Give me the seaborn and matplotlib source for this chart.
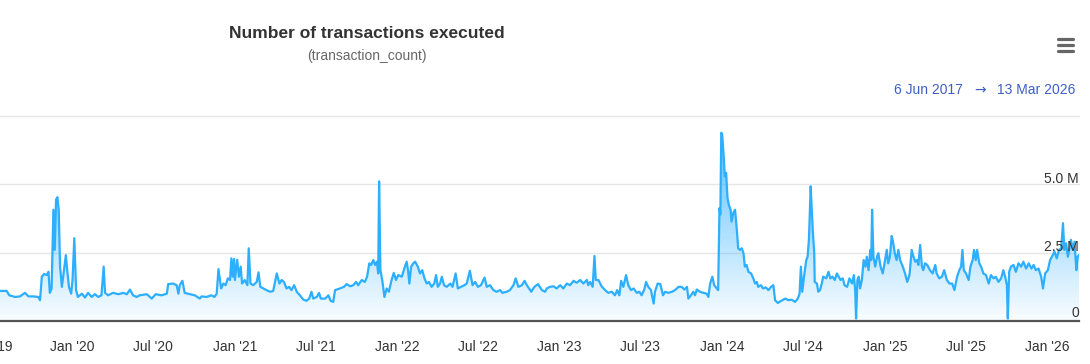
import numpy as np
import pandas as pd
import matplotlib
matplotlib.use("Agg")
import matplotlib.pyplot as plt
import matplotlib.dates as mdates
from matplotlib.lines import Line2D
import seaborn as sns

# Daily transaction count (millions)
dates = [
    "2019-07-23", "2019-08-07", "2019-08-13", "2019-08-26", "2019-09-06", "2019-09-17", "2019-09-25", "2019-10-06",
    "2019-10-17", "2019-10-21", "2019-10-25", "2019-10-30", "2019-11-05", "2019-11-09", "2019-11-12", "2019-11-16",
    "2019-11-20", "2019-11-23", "2019-11-26", "2019-11-29", "2019-12-02", "2019-12-05", "2019-12-09", "2019-12-12",
    "2019-12-18", "2019-12-21", "2019-12-25", "2019-12-30", "2020-01-02", "2020-01-06", "2020-01-10", "2020-01-14",
    "2020-01-23", "2020-01-30", "2020-02-06", "2020-02-14", "2020-02-21", "2020-02-29", "2020-03-07", "2020-03-12",
    "2020-03-15", "2020-03-22", "2020-04-02", "2020-04-14", "2020-04-25", "2020-05-03", "2020-05-10", "2020-05-17",
    "2020-05-25", "2020-06-01", "2020-06-17", "2020-06-28", "2020-07-07", "2020-07-20", "2020-08-01", "2020-08-04",
    "2020-08-15", "2020-08-23", "2020-08-27", "2020-08-30", "2020-09-05", "2020-09-10", "2020-09-22", "2020-10-03",
    "2020-10-14", "2020-10-18", "2020-10-29", "2020-11-09", "2020-11-16", "2020-11-21", "2020-11-25", "2020-12-01",
    "2020-12-06", "2020-12-11", "2020-12-16", "2020-12-21", "2020-12-24", "2020-12-27", "2020-12-30", "2021-01-01",
    "2021-01-06", "2021-01-10", "2021-01-14", "2021-01-17", "2021-01-23", "2021-01-29", "2021-02-01", "2021-02-05",
    "2021-02-11", "2021-02-19", "2021-02-23", "2021-02-27", "2021-03-06", "2021-03-13", "2021-03-21", "2021-03-28",
    "2021-04-05", "2021-04-11", "2021-04-16", "2021-04-21", "2021-04-27", "2021-05-03", "2021-05-08", "2021-05-14",
    "2021-05-20", "2021-05-27", "2021-06-04", "2021-06-11", "2021-06-17", "2021-06-22", "2021-06-26", "2021-07-04",
    "2021-07-09", "2021-07-13", "2021-07-23", "2021-07-30", "2021-08-04", "2021-08-10", "2021-08-14", "2021-08-25",
    "2021-09-03", "2021-09-09", "2021-09-17", "2021-09-24", "2021-09-30", "2021-10-05", "2021-10-13", "2021-10-20",
    "2021-10-25", "2021-10-30", "2021-11-03", "2021-11-08", "2021-11-12", "2021-11-16", "2021-11-19", "2021-11-21",
    "2021-11-24", "2021-11-28", "2021-12-03", "2021-12-08", "2021-12-13", "2021-12-19", "2021-12-24", "2021-12-29",
    "2022-01-03", "2022-01-11", "2022-01-18", "2022-01-22", "2022-01-25", "2022-01-28", "2022-02-01", "2022-02-06",
    "2022-02-10", "2022-02-16", "2022-02-21", "2022-02-26", "2022-03-03", "2022-03-08", "2022-03-13", "2022-03-19",
    "2022-03-25", "2022-03-29", "2022-04-02", "2022-04-07", "2022-04-11", "2022-04-16", "2022-04-22", "2022-04-30",
    "2022-05-05", "2022-05-12", "2022-05-17", "2022-05-24", "2022-06-01", "2022-06-06", "2022-06-13", "2022-06-19",
    "2022-06-25", "2022-07-01", "2022-07-08", "2022-07-16", "2022-07-21", "2022-07-28", "2022-08-05", "2022-08-12",
    "2022-08-20", "2022-08-25", "2022-09-04", "2022-09-11", "2022-09-19", "2022-09-24", "2022-09-30", "2022-10-08",
    "2022-10-14", "2022-10-19", "2022-10-29", "2022-11-05", "2022-11-13", "2022-11-22", "2022-11-29", "2022-12-03",
    "2022-12-10", "2022-12-18", "2022-12-25", "2023-01-02", "2023-01-09", "2023-01-17", "2023-01-24", "2023-02-01",
    "2023-02-08", "2023-02-16", "2023-02-23", "2023-03-03", "2023-03-06", "2023-03-10", "2023-03-16", "2023-03-20",
    "2023-03-23", "2023-03-29", "2023-04-05", "2023-04-13", "2023-04-20", "2023-04-28", "2023-05-05", "2023-05-10",
    "2023-05-15", "2023-05-19", "2023-05-24", "2023-05-30", "2023-06-04", "2023-06-10", "2023-06-16", "2023-06-23",
    "2023-06-29", "2023-07-04", "2023-07-10", "2023-07-14", "2023-07-19", "2023-07-25", "2023-07-31", "2023-08-03",
    "2023-08-09", "2023-08-15", "2023-08-21", "2023-08-26", "2023-09-02", "2023-09-10", "2023-09-17", "2023-09-25",
    "2023-10-02", "2023-10-08", "2023-10-14", "2023-10-17", "2023-10-23", "2023-10-28", "2023-11-01", "2023-11-05",
    "2023-11-12", "2023-11-20", "2023-11-27", "2023-12-01", "2023-12-05", "2023-12-10", "2023-12-14", "2023-12-20",
    "2023-12-23", "2023-12-26", "2023-12-28", "2023-12-30", "2024-01-01", "2024-01-05", "2024-01-07", "2024-01-10",
    "2024-01-13", "2024-01-16", "2024-01-20", "2024-01-22", "2024-01-26", "2024-01-30", "2024-02-03", "2024-02-06",
    "2024-02-10", "2024-02-14", "2024-02-18", "2024-02-21", "2024-02-25", "2024-02-29", "2024-03-06", "2024-03-11",
    "2024-03-15", "2024-03-19", "2024-03-22", "2024-03-28", "2024-04-02", "2024-04-08", "2024-04-14", "2024-04-20",
    "2024-04-25", "2024-04-29", "2024-05-05", "2024-05-13", "2024-05-22", "2024-05-29", "2024-06-05", "2024-06-13",
    "2024-06-19", "2024-06-23", "2024-06-26", "2024-06-29", "2024-07-03", "2024-07-08", "2024-07-11", "2024-07-14",
    "2024-07-18", "2024-07-20", "2024-07-23", "2024-07-26", "2024-07-27", "2024-08-01", "2024-08-04", "2024-08-08",
    "2024-08-12", "2024-08-15", "2024-08-22", "2024-08-27", "2024-08-31", "2024-09-05", "2024-09-10", "2024-09-15",
    "2024-09-23", "2024-09-28", "2024-10-02", "2024-10-08", "2024-10-13", "2024-10-19", "2024-10-23", "2024-10-26",
    "2024-10-28", "2024-10-31", "2024-11-03", "2024-11-06", "2024-11-10", "2024-11-14", "2024-11-18", "2024-11-21",
    "2024-11-25", "2024-11-29", "2024-12-01", "2024-12-03", "2024-12-06", "2024-12-10", "2024-12-14", "2024-12-17",
    "2024-12-22", "2024-12-27", "2025-01-01", "2025-01-05", "2025-01-08", "2025-01-12", "2025-01-16", "2025-01-19",
    "2025-01-23", "2025-01-27", "2025-01-31", "2025-02-04", "2025-02-10", "2025-02-15", "2025-02-20", "2025-02-25",
    "2025-03-02", "2025-03-06", "2025-03-10", "2025-03-14", "2025-03-17", "2025-03-21", "2025-03-25", "2025-03-28",
    "2025-04-01", "2025-04-06", "2025-04-12", "2025-04-18", "2025-04-24", "2025-04-27", "2025-05-03", "2025-05-09",
    "2025-05-14", "2025-05-20", "2025-05-26", "2025-06-01", "2025-06-06", "2025-06-12", "2025-06-17", "2025-06-21",
    "2025-06-24", "2025-06-27", "2025-07-02", "2025-07-08", "2025-07-12", "2025-07-17", "2025-07-20", "2025-07-24",
    "2025-07-27", "2025-08-01", "2025-08-05", "2025-08-10", "2025-08-16", "2025-08-22", "2025-08-27", "2025-09-02",
    "2025-09-07", "2025-09-13", "2025-09-19", "2025-09-24", "2025-09-28", "2025-10-02", "2025-10-04", "2025-10-07",
    "2025-10-11", "2025-10-17", "2025-10-22", "2025-10-28", "2025-11-03", "2025-11-08", "2025-11-14", "2025-11-20",
    "2025-11-26", "2025-12-01", "2025-12-06", "2025-12-12", "2025-12-18", "2025-12-22", "2025-12-27", "2026-01-02",
    "2026-01-07", "2026-01-11", "2026-01-17", "2026-01-22", "2026-01-27", "2026-02-01", "2026-02-05", "2026-02-08",
    "2026-02-12", "2026-02-16", "2026-02-19", "2026-02-23", "2026-02-27", "2026-03-03", "2026-03-07", "2026-03-10",
    "2026-03-13",
]
tx_millions = [
    1.10, 1.10, 0.94, 0.88, 0.90, 1.03, 0.90, 0.90,
    0.88, 0.76, 1.62, 1.72, 1.68, 1.80, 1.03, 1.19,
    4.07, 2.60, 4.44, 4.53, 4.07, 1.99, 1.25, 1.62,
    2.41, 1.86, 1.25, 1.00, 1.50, 3.03, 1.13, 0.88,
    1.00, 0.86, 1.03, 0.88, 0.98, 0.88, 0.94, 1.99,
    1.03, 0.94, 1.03, 0.98, 1.03, 0.98, 1.15, 0.94,
    0.88, 0.94, 0.98, 0.82, 0.98, 0.94, 1.00, 1.35,
    1.37, 1.31, 1.00, 1.31, 1.47, 1.03, 0.98, 0.94,
    0.82, 0.90, 0.88, 0.94, 0.88, 1.00, 1.90, 1.19,
    1.37, 1.31, 1.56, 1.50, 2.29, 1.62, 2.27, 1.50,
    2.24, 1.62, 1.99, 1.37, 1.50, 1.31, 2.66, 1.37,
    1.31, 1.43, 1.78, 1.25, 1.19, 1.13, 1.07, 1.10,
    1.74, 1.37, 1.50, 1.43, 1.19, 1.25, 1.13, 1.31,
    1.07, 0.94, 0.78, 0.74, 0.82, 1.07, 0.82, 0.88,
    1.03, 0.82, 0.82, 0.94, 0.74, 0.70, 1.13, 1.19,
    1.25, 1.35, 1.27, 1.31, 1.43, 1.31, 1.50, 1.43,
    1.62, 2.11, 2.05, 2.23, 2.05, 2.17, 1.74, 5.11,
    1.86, 1.50, 0.88, 1.19, 1.07, 1.50, 1.76, 1.50,
    1.68, 1.62, 1.99, 2.17, 1.86, 1.37, 1.99, 2.11,
    2.17, 1.99, 1.74, 1.86, 1.56, 1.37, 1.43, 1.25,
    1.37, 1.68, 1.25, 1.37, 1.62, 1.31, 1.25, 1.37,
    1.25, 1.74, 1.19, 1.25, 1.31, 1.37, 1.84, 1.31,
    1.43, 1.25, 1.31, 1.59, 1.25, 1.31, 1.13, 1.07,
    1.13, 1.03, 1.07, 1.13, 1.31, 1.56, 1.25, 1.31,
    1.47, 1.31, 1.07, 1.25, 1.35, 1.13, 1.07, 1.19,
    1.25, 1.27, 1.19, 1.31, 1.19, 1.37, 1.31, 1.47,
    1.40, 1.50, 1.37, 1.50, 1.31, 1.43, 1.25, 2.38,
    1.50, 1.50, 1.27, 1.13, 1.03, 1.07, 0.94, 1.13,
    0.94, 1.47, 1.25, 1.68, 1.31, 1.13, 1.19, 1.03,
    1.07, 0.94, 1.15, 1.43, 1.25, 1.13, 0.64, 1.07,
    1.37, 1.35, 0.94, 1.07, 1.03, 1.07, 1.13, 1.25,
    1.25, 1.15, 1.25, 0.82, 0.94, 1.07, 0.94, 1.15,
    1.07, 1.03, 1.00, 0.88, 1.37, 1.62, 1.31, 1.19,
    1.13, 4.13, 3.90, 6.89, 6.83, 5.90, 5.29, 5.42,
    4.50, 4.25, 4.07, 3.64, 3.95, 4.07, 3.33, 2.66,
    2.60, 2.66, 2.48, 1.99, 2.05, 1.80, 1.74, 1.56,
    1.37, 1.43, 1.25, 1.31, 1.19, 1.23, 1.13, 1.25,
    1.31, 0.76, 0.66, 0.74, 0.82, 0.76, 0.78, 0.70,
    0.82, 1.00, 1.99, 1.07, 1.62, 2.23, 2.35, 2.97,
    4.93, 4.20, 3.21, 2.48, 1.43, 1.37, 1.07, 1.13,
    1.37, 1.62, 1.56, 1.80, 1.56, 1.62, 1.50, 1.74,
    1.50, 1.56, 1.31, 1.25, 1.56, 1.37, 1.68, 1.13,
    0.09, 1.50, 1.62, 1.19, 1.50, 2.23, 1.99, 2.35,
    1.86, 2.60, 2.23, 4.07, 2.35, 1.99, 2.35, 2.48,
    1.99, 1.74, 2.23, 2.60, 2.11, 2.35, 3.11, 2.90,
    2.48, 2.23, 2.60, 2.23, 1.99, 1.74, 1.43, 1.68,
    2.60, 2.35, 2.17, 2.23, 2.05, 2.78, 1.99, 1.86,
    2.11, 2.05, 1.86, 1.74, 2.05, 1.74, 1.56, 1.62,
    1.86, 1.50, 1.37, 1.37, 1.13, 1.62, 1.86, 1.99,
    2.60, 1.86, 1.74, 1.50, 1.99, 2.23, 2.60, 2.23,
    2.60, 2.11, 1.99, 1.74, 1.68, 1.37, 1.68, 1.56,
    1.62, 1.43, 1.56, 1.86, 1.62, 1.31, 0.09, 1.80,
    1.99, 2.05, 1.80, 2.11, 1.99, 2.17, 1.92, 2.11,
    1.92, 2.05, 1.86, 1.92, 1.62, 1.19, 1.74, 1.86,
    2.23, 2.35, 2.54, 2.29, 2.60, 2.66, 3.58, 2.60,
    2.84, 2.35, 2.60, 2.97, 2.60, 2.90, 1.86, 2.35,
    2.41,
]

grid_values = [2.5, 5.0, 7.5]
y_label_values = [0, 2.5, 5.0]
y_labels = ["0", "2.5 M", "5.0 M"]
view_start, view_end = "2019-07-23", "2026-03-13"
title = "Number of transactions executed"
subtitle = "(transaction_count)"
range_from, range_to = "6 Jun 2017", "13 Mar 2026"

sns.set_style("white")
plt.rcParams["font.family"] = ["Liberation Sans", "DejaVu Sans"]

df = pd.DataFrame({"date": pd.to_datetime(dates), "tx": tx_millions})

W, H = 1090, 364
fig = plt.figure(figsize=(W / 100, H / 100), dpi=100)
ax = fig.add_axes([0, 43 / H, 1079 / W, 205 / H])

line_color = "#2caffe"

# gradient area under the line
fill = ax.fill_between(df["date"], 0, df["tx"], facecolor="none", edgecolor="none")
x0 = mdates.date2num(pd.Timestamp(view_start))
x1 = mdates.date2num(pd.Timestamp(view_end))
grad = np.zeros((256, 1, 4))
grad[..., 0] = 44 / 255
grad[..., 1] = 175 / 255
grad[..., 2] = 254 / 255
grad[:, 0, 3] = np.linspace(0.85, 0.03, 256)
img = ax.imshow(grad, extent=[x0, x1, 0, 7.5], aspect="auto", origin="upper", zorder=1)
img.set_clip_path(fill.get_paths()[0], transform=ax.transData)

sns.lineplot(data=df, x="date", y="tx", ax=ax, color=line_color, linewidth=1.6, zorder=3)

ax.set_xlim(x0, x1)
ax.set_ylim(0, 7.5)
ax.set_xlabel("")
ax.set_ylabel("")

for v in grid_values:
    ax.axhline(v, color="#e6e6e6", linewidth=1, zorder=0, clip_on=False)

for sp in ["top", "left", "right"]:
    ax.spines[sp].set_visible(False)
ax.spines["bottom"].set_color("#555555")
ax.spines["bottom"].set_linewidth(1.6)
ax.spines["bottom"].set_zorder(4)

ax.xaxis.set_major_locator(mdates.MonthLocator(bymonth=[1, 7]))
ax.xaxis.set_major_formatter(mdates.DateFormatter("%b '%y"))
ax.tick_params(axis="x", length=7, width=1, color="#555555", labelsize=10,
               labelcolor="#333333", pad=7)
ax.set_yticks([])

# partly cut label at the left edge
ax.annotate("Jul '19", xy=(mdates.date2num(pd.Timestamp("2019-07-01")), 0),
            xycoords=("data", "axes fraction"), xytext=(2, -14), textcoords="offset points",
            ha="center", va="top", fontsize=10, color="#333333", annotation_clip=False)

for v, lab in zip(y_label_values, y_labels):
    lift = 3.0 if v == 0 else 1.3
    ax.annotate(lab, xy=(1, v), xycoords=("axes fraction", "data"), xytext=(0, lift),
                textcoords="offset points", ha="right", va="baseline", fontsize=10,
                color="#333333", zorder=5)

fig.text(367 / W, 1 - 33 / H, title, ha="center", va="center", fontsize=12.5,
         fontweight="bold", color="#333333")
fig.text(367 / W, 1 - 56 / H, subtitle, ha="center", va="center", fontsize=10, color="#666666")

range_color = "#3d5fc4"
fig.text(1075 / W, 1 - 90 / H, range_to, ha="right", va="center", fontsize=10, color=range_color)
fig.text(980 / W, 1 - 90 / H, "\u2192", ha="center", va="center", fontsize=10,
         color=range_color, family="DejaVu Sans")
fig.text(963 / W, 1 - 90 / H, range_from, ha="right", va="center", fontsize=10, color=range_color)

# menu icon
for yy in [39, 45, 51]:
    fig.add_artist(Line2D([1058 / W, 1073 / W], [1 - yy / H, 1 - yy / H], color="#666666",
                          linewidth=2.3, solid_capstyle="round", transform=fig.transFigure))

fig.savefig("out.png", dpi=100)
